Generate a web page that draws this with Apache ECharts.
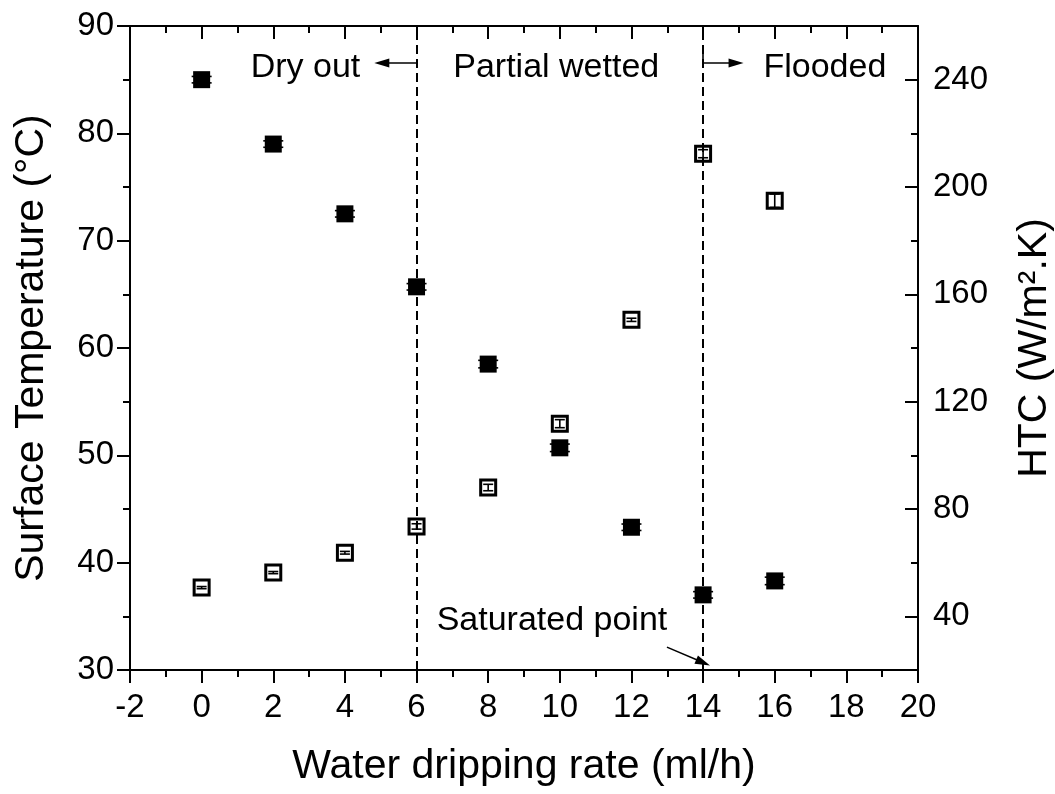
<!DOCTYPE html>
<html>
<head>
<meta charset="utf-8">
<script src="https://cdn.jsdelivr.net/npm/echarts@6/dist/echarts.min.js"></script>
<style>
  html, body { margin: 0; padding: 0; background: #fff; }
  #chart { width: 1055px; height: 794px; }
</style>
</head>
<body>
<div id="chart"></div>
<script>
// Water dripping rate (ml/h)
const rates = [0, 2, 4, 6, 8, 10, 12, 14, 16];
// Surface temperature (°C) and its uncertainty
const surfaceTemp = [85.0, 79.0, 72.5, 65.7, 58.5, 50.7, 43.3, 37.0, 38.3];
const surfaceTempErr = [0.3, 0.3, 0.3, 0.3, 0.35, 0.35, 0.3, 0.3, 0.35];
// Heat transfer coefficient (W/m².K) and its uncertainty
const htc = [50.7, 56.3, 63.7, 73.5, 88.0, 111.8, 150.5, 212.4, 194.9];
const htcErr = [0.4, 0.4, 0.5, 1.0, 1.2, 1.5, 0.6, 1.5, 2.5];

// Axis ticks
const xTicks = { min: -2, max: 20, step: 2 };
const tempTicks = { min: 30, max: 90, step: 10 };
const htcLabels = [40, 80, 120, 160, 200, 240];
const htcMinor = [60, 100, 140, 180, 220];

const FONT = '"Liberation Sans", Arial, sans-serif';
const BLACK = '#000';
const axisLine = { show: true, onZero: false, lineStyle: { color: BLACK, width: 2 } };
const tickStyle = { color: BLACK, width: 2 };

function errorBarSeries(ys, errs, capHalf, yAxisIndex) {
  return {
    type: 'custom',
    xAxisIndex: 0,
    yAxisIndex: yAxisIndex,
    z: 5,
    silent: true,
    data: rates.map((x, i) => [x, ys[i] - errs[i], ys[i] + errs[i]]),
    encode: { x: 0, y: [1, 2] },
    renderItem: function (params, api) {
      const lo = api.coord([api.value(0), api.value(1)]);
      const hi = api.coord([api.value(0), api.value(2)]);
      const style = { stroke: BLACK, lineWidth: 1.6 };
      return {
        type: 'group',
        children: [
          { type: 'line', shape: { x1: lo[0], y1: lo[1], x2: hi[0], y2: hi[1] }, style: style },
          { type: 'line', shape: { x1: lo[0] - capHalf, y1: lo[1], x2: lo[0] + capHalf, y2: lo[1] }, style: style },
          { type: 'line', shape: { x1: hi[0] - capHalf, y1: hi[1], x2: hi[0] + capHalf, y2: hi[1] }, style: style }
        ]
      };
    }
  };
}

const chart = echarts.init(document.getElementById('chart'), null, { renderer: 'canvas' });

const option = {
  animation: false,
  backgroundColor: '#fff',
  textStyle: { fontFamily: FONT, color: BLACK },
  grid: { left: 130, right: 137, top: 26, bottom: 124, outerBoundsMode: 'none', containLabel: false },
  xAxis: [
    {
      type: 'value', position: 'bottom',
      min: xTicks.min, max: xTicks.max, interval: xTicks.step,
      name: 'Water dripping rate (ml/h)', nameLocation: 'middle', nameGap: 76,
      nameTextStyle: { fontSize: 41, color: BLACK, fontFamily: FONT },
      axisLine: axisLine,
      axisTick: { show: true, length: 13, lineStyle: tickStyle },
      minorTick: { show: true, splitNumber: 2, length: 7, lineStyle: tickStyle },
      axisLabel: { fontSize: 33, color: BLACK, margin: 21, fontFamily: FONT },
      splitLine: { show: false }
    },
    {
      type: 'value', position: 'top',
      min: xTicks.min, max: xTicks.max, interval: xTicks.step,
      axisLine: axisLine,
      axisTick: { show: true, inside: true, length: 13, lineStyle: tickStyle },
      minorTick: { show: true, splitNumber: 2, length: 7, lineStyle: tickStyle },
      axisLabel: { show: false },
      splitLine: { show: false }
    }
  ],
  yAxis: [
    {
      type: 'value', position: 'left',
      min: tempTicks.min, max: tempTicks.max, interval: tempTicks.step,
      name: 'Surface Temperature (°C)', nameLocation: 'middle', nameGap: 78, nameRotate: 90,
      nameTextStyle: { fontSize: 41, color: BLACK, fontFamily: FONT },
      axisLine: axisLine,
      axisTick: { show: true, length: 13, lineStyle: tickStyle },
      minorTick: { show: true, splitNumber: 2, length: 7, lineStyle: tickStyle },
      axisLabel: { fontSize: 33, color: BLACK, margin: 16, fontFamily: FONT },
      splitLine: { show: false }
    },
    {
      type: 'value', position: 'right',
      min: 20, max: 260, interval: 20,
      name: 'HTC (W/m².K)', nameLocation: 'middle', nameGap: 96, nameRotate: 90,
      nameTextStyle: { fontSize: 41, color: BLACK, fontFamily: FONT },
      axisLine: axisLine,
      axisTick: { show: true, inside: true, length: 13, lineStyle: tickStyle, customValues: htcLabels },
      axisLabel: { fontSize: 33, color: BLACK, margin: 15, fontFamily: FONT, customValues: htcLabels },
      splitLine: { show: false }
    },
    {
      // minor ticks of the HTC axis
      type: 'value', position: 'right',
      min: 20, max: 260, interval: 20,
      axisLine: { show: false, onZero: false },
      axisTick: { show: true, inside: true, length: 7, lineStyle: tickStyle, customValues: htcMinor },
      axisLabel: { show: false },
      splitLine: { show: false }
    }
  ],
  series: [
    {
      name: 'Surface Temperature',
      type: 'scatter',
      xAxisIndex: 0, yAxisIndex: 0,
      symbol: 'rect', symbolSize: 17,
      itemStyle: { color: BLACK, opacity: 1 },
      z: 4,
      data: rates.map((x, i) => [x, surfaceTemp[i]]),
      markLine: {
        silent: true,
        symbol: 'none',
        label: { show: false },
        lineStyle: { color: BLACK, width: 2, type: [9, 5], opacity: 1 },
        data: [{ xAxis: 6 }, { xAxis: 14 }]
      }
    },
    {
      name: 'HTC',
      type: 'scatter',
      xAxisIndex: 0, yAxisIndex: 1,
      symbol: 'rect', symbolSize: 15,
      itemStyle: { color: '#fff', borderColor: BLACK, borderWidth: 3, opacity: 1 },
      z: 4,
      data: rates.map((x, i) => [x, htc[i]])
    },
    errorBarSeries(surfaceTemp, surfaceTempErr, 10, 0),
    errorBarSeries(htc, htcErr, 5, 1),
    {
      // regime labels and pointer arrows
      name: 'notes',
      type: 'scatter',
      xAxisIndex: 0, yAxisIndex: 0,
      symbolSize: 0,
      silent: true,
      z: 6,
      itemStyle: { opacity: 1 },
      label: {
        show: true, position: 'inside',
        fontSize: 34, color: BLACK, fontFamily: FONT,
        formatter: p => p.data[2]
      },
      data: [
        [2.9, 86.1, 'Dry out'],
        [9.9, 86.1, 'Partial wetted'],
        [17.4, 86.1, 'Flooded'],
        [9.78, 34.6, 'Saturated point']
      ],
      markLine: {
        silent: true,
        label: { show: false },
        lineStyle: { color: BLACK, width: 1.6, type: 'solid', opacity: 1 },
        symbolSize: [9, 15],
        data: [
          [{ coord: [6, 86.55], symbol: 'none' }, { coord: [5.03, 86.55], symbol: 'triangle' }],
          [{ coord: [14, 87.6], symbol: 'none' }, { coord: [14, 86.55], symbol: 'none' }],
          [{ coord: [14, 86.55], symbol: 'none' }, { coord: [14.92, 86.55], symbol: 'triangle' }],
          [{ coord: [12.99, 32.13], symbol: 'none' }, { coord: [14.0, 30.7], symbol: 'triangle' }]
        ]
      }
    }
  ]
};

chart.setOption(option);
</script>
</body>
</html>
